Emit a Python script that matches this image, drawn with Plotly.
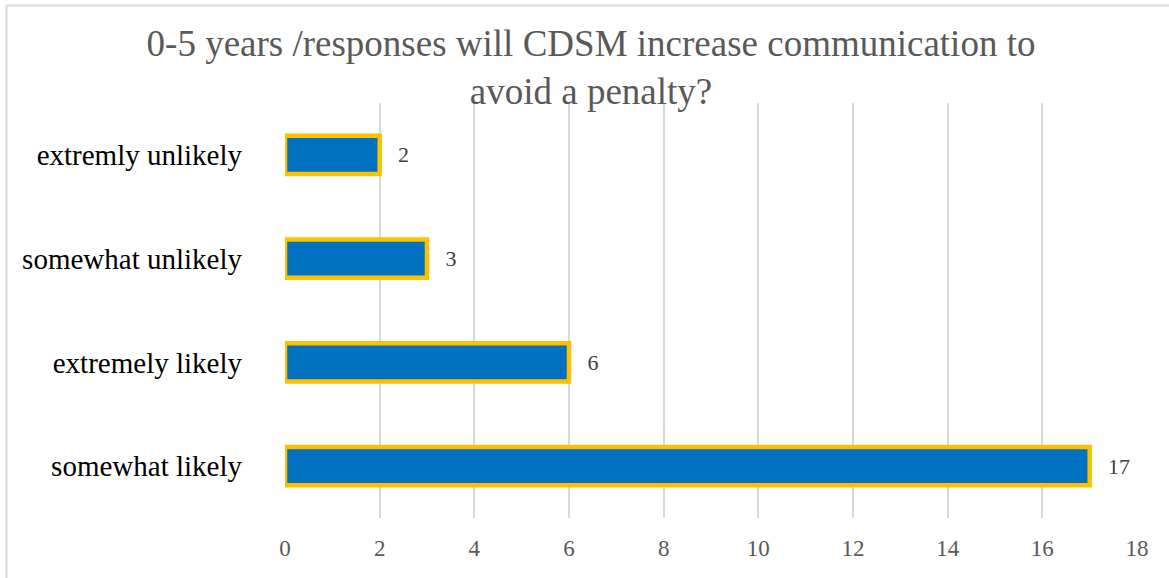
import plotly.graph_objects as go

categories = ["somewhat likely", "extremely likely", "somewhat unlikely", "extremly unlikely"]
values = [17, 6, 3, 2]
x_ticks = [0, 2, 4, 6, 8, 10, 12, 14, 16, 18]
title_text = "0-5 years /responses will CDSM increase communication to<br>avoid a penalty?"

W, H = 1169, 578
L, R, T, B = 285, 32, 103, 60
pw, ph = W - L - R, H - T - B

def px_x(p):
    return (p - L) / pw

def px_y(p):
    return (H - B - p) / ph

fig = go.Figure()
fig.add_trace(go.Bar(
    y=categories, x=values, orientation="h",
    marker=dict(color="#0070C0", line=dict(color="#FFC000", width=4.5)),
    text=["\u2002\u2009" + str(v) for v in values], textposition="outside",
    textfont=dict(family="Liberation Serif", size=22, color="#404040"),
    cliponaxis=False,
))

fig.update_layout(
    width=W, height=H,
    margin=dict(l=L, r=R, t=T, b=B),
    paper_bgcolor="white", plot_bgcolor="white",
    bargap=0.63,
    showlegend=False,
    title=dict(text=title_text, x=(591) / W, xanchor="center",
               y=1 - 56 / H, yanchor="top", yref="container",
               font=dict(family="Liberation Serif", size=37, color="#595959")),
    xaxis=dict(range=[0, 18], tickvals=x_ticks, showgrid=True,
               gridcolor="#D9D9D9", gridwidth=1.5, zeroline=False,
               showline=False, ticks="", ticklabelstandoff=14,
               tickfont=dict(family="Liberation Serif", size=23, color="#595959")),
    yaxis=dict(categoryorder="array", categoryarray=categories,
               showgrid=False, zeroline=False, showline=False, ticks="",
               ticklabelstandoff=42,
               tickfont=dict(family="Liberation Serif", size=29, color="#000000")),
    shapes=[
        dict(type="line", xref="paper", yref="paper",
             x0=px_x(6.5), x1=px_x(6.5), y0=px_y(5.5), y1=px_y(H + 5),
             line=dict(color="#D9D9D9", width=2)),
        dict(type="line", xref="paper", yref="paper",
             x0=px_x(6.5), x1=px_x(W + 5), y0=px_y(5.5), y1=px_y(5.5),
             line=dict(color="#D9D9D9", width=2)),
    ],
)

fig.write_html("out.html")
